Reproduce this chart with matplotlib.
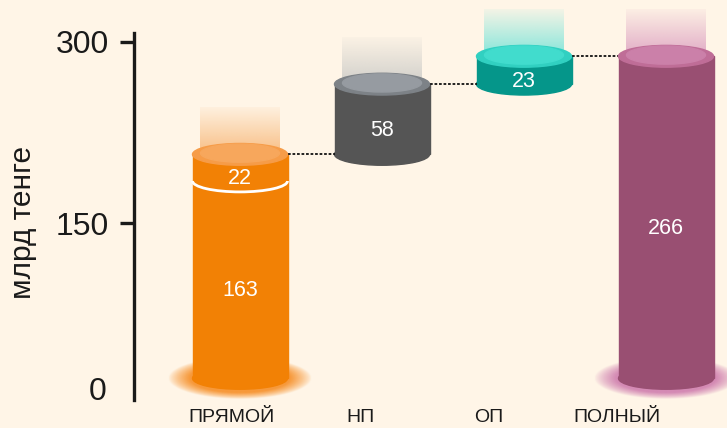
import numpy as np
import matplotlib
matplotlib.use('Agg')
import matplotlib.pyplot as plt
from matplotlib.patches import Ellipse, Rectangle, Arc

plt.rcParams['font.family'] = ['Liberation Sans', 'DejaVu Sans']

# data
categories = ['ПРЯМОЙ', 'НП', 'ОП', 'ПОЛНЫЙ']
direct_parts = [163, 22]          # stacked parts of the first bar
np_value = 58
op_value = 23
total_value = 266
y_ticks = [0, 150, 300]

# styles: side, top rim, top inner, glow
side_cols = ['#f28105', '#555555', '#05968a', '#994f72']
rim_cols = ['#f69c48', '#7d8287', '#31d0c1', '#bf6d97']
top_cols = ['#f7a75c', '#969ba1', '#41dccd', '#cb80a9']
glow_cols = ['#f7b574', '#c9c9c6', '#6fe3d8', '#dc9ec0']
shadow_cols = ['#f7993a', None, None, '#d48ab4']
bg = '#fff5e7'

fig = plt.figure(figsize=(7.27, 4.28), dpi=100, facecolor=bg)
ax = fig.add_axes([0, 0, 1, 1])
ax.set_facecolor(bg)

base = 22          # bottom of cylinders in axis units
bar_w = 95
ry = 9             # half height of the cylinder ellipses
bar_x = 240 + np.arange(len(categories)) * 142.0

direct_total = sum(direct_parts)
bottoms = [base, base + direct_total, base + direct_total + np_value, base]
heights = [direct_total, np_value, op_value, total_value]


def glow_above(x, top, color):
    rgba = np.zeros((60, 2, 4))
    rgba[..., :3] = matplotlib.colors.to_rgb(color)
    rgba[..., 3] = np.linspace(0.08, 0.85, 60)[:, None]
    ax.imshow(rgba, extent=[x - 40, x + 40, top, top + 38], origin='upper',
              aspect='auto', zorder=1, interpolation='bilinear')


def glow_below(x, y, color):
    n = 160
    gx, gy = np.meshgrid(np.linspace(-1, 1, n), np.linspace(-1, 1, n))
    r = np.sqrt(gx ** 2 + gy ** 2)
    rgba = np.zeros((n, n, 4))
    rgba[..., :3] = matplotlib.colors.to_rgb(color)
    rgba[..., 3] = np.clip((1 - r) / 0.3, 0, 1) ** 0.8
    ax.imshow(rgba, extent=[x - 72, x + 72, y - 17, y + 17],
              aspect='auto', zorder=1, interpolation='bilinear')


for i, (x, b, h) in enumerate(zip(bar_x, bottoms, heights)):
    top = b + h
    glow_above(x, top, glow_cols[i])
    if shadow_cols[i]:
        glow_below(x, b, shadow_cols[i])
    ax.add_patch(Ellipse((x, b), bar_w, 2 * ry, color=side_cols[i], zorder=2))
    ax.add_patch(Rectangle((x - bar_w / 2, b), bar_w, h, color=side_cols[i], zorder=2))
    ax.add_patch(Ellipse((x, top), bar_w, 2 * ry, color=rim_cols[i], zorder=3))
    ax.add_patch(Ellipse((x, top + 1), bar_w - 16, 2 * ry - 3, color=top_cols[i], zorder=3))

# first bar: split line and two labels
split = base + direct_parts[0]
ax.add_patch(Arc((bar_x[0], split), bar_w, 2 * ry, theta1=180, theta2=360,
                 color='white', lw=2, zorder=4))
ax.text(bar_x[0], base + direct_parts[0] / 2 - ry, str(direct_parts[0]),
        color='white', fontsize=15.5, ha='center', va='center', zorder=5)
ax.text(bar_x[0], split + direct_parts[1] / 2 - ry, str(direct_parts[1]),
        color='white', fontsize=15.5, ha='center', va='center', zorder=5)
for i, v in [(1, np_value), (2, op_value), (3, total_value)]:
    ax.text(bar_x[i], bottoms[i] + v / 2 - ry, str(v),
            color='white', fontsize=15.5, ha='center', va='center', zorder=5)

# dotted connectors
for i in range(3):
    lvl = bottoms[i] + heights[i]
    ax.plot([bar_x[i] + bar_w / 2, bar_x[i + 1] - bar_w / 2], [lvl, lvl],
            color='#111111', lw=1.3, ls=(0, (1.5, 1)), zorder=2)

# category labels
label_x = np.linspace(232, 617, len(categories))
for lx, c in zip(label_x, categories):
    ax.text(lx, -10.5, c, fontsize=14, ha='center', va='center', color='#1a1a1a')

# y axis
for s in ['top', 'right', 'bottom']:
    ax.spines[s].set_visible(False)
ax.spines['left'].set_position(('data', 134))
ax.spines['left'].set_bounds(4, 307)
ax.spines['left'].set_linewidth(2.4)
ax.spines['left'].set_color('#1a1a1a')
ax.set_xticks([])
ax.set_yticks(y_ticks[1:])
ax.set_yticklabels([str(t) for t in y_ticks[1:]])
ax.tick_params(axis='y', length=10, width=2.4, pad=8, labelsize=23,
               color='#1a1a1a', labelcolor='#1a1a1a')
ax.text(107, 11, str(y_ticks[0]), fontsize=23, ha='right', va='center', color='#1a1a1a')
ax.text(23, 151, 'млрд тенге', rotation=90, fontsize=21.5,
        ha='center', va='center', color='#1a1a1a')

ax.set_xlim(0, 727)
ax.set_ylim(-19.0, 334.5)

fig.savefig('out.png', dpi=100, facecolor=bg)
